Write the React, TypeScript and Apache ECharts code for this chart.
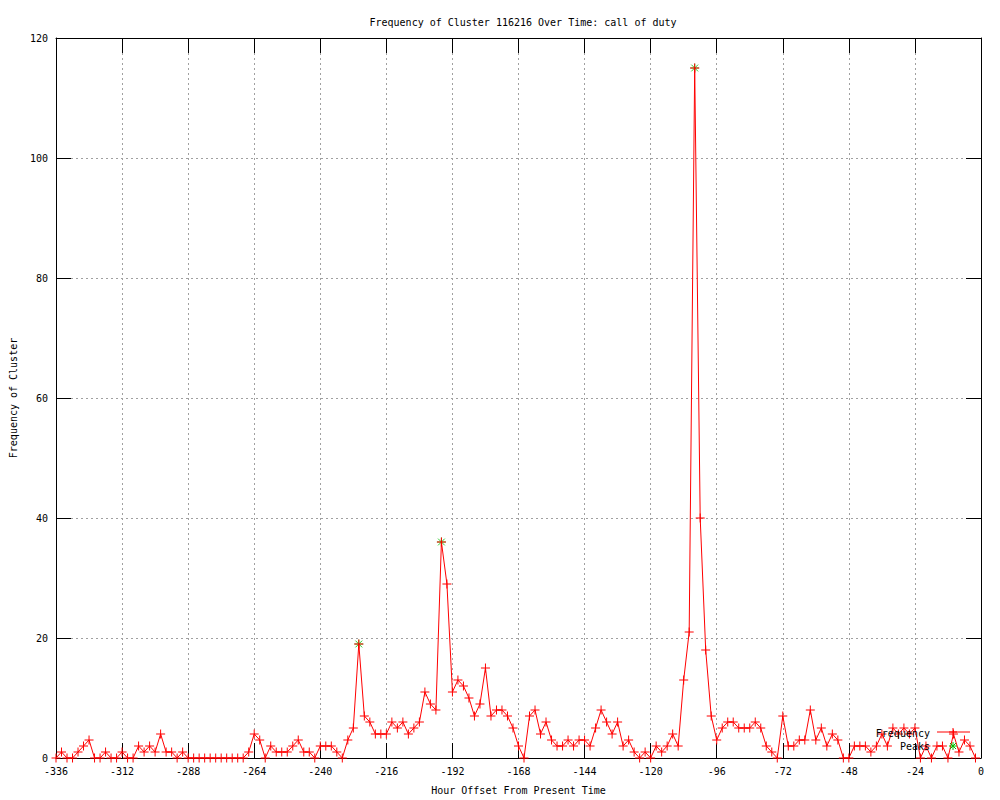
import React, { useEffect, useRef } from "react";
import * as echarts from "echarts";

const hours = [
  -336, -334, -332, -330, -328, -326, -324, -322, -320, -318, -316, -314, -312, -310, -308, -306,
  -304, -302, -300, -298, -296, -294, -292, -290, -288, -286, -284, -282, -280, -278, -276, -274,
  -272, -270, -268, -266, -264, -262, -260, -258, -256, -254, -252, -250, -248, -246, -244, -242,
  -240, -238, -236, -234, -232, -230, -228, -226, -224, -222, -220, -218, -216, -214, -212, -210,
  -208, -206, -204, -202, -200, -198, -196, -194, -192, -190, -188, -186, -184, -182, -180, -178,
  -176, -174, -172, -170, -168, -166, -164, -162, -160, -158, -156, -154, -152, -150, -148, -146,
  -144, -142, -140, -138, -136, -134, -132, -130, -128, -126, -124, -122, -120, -118, -116, -114,
  -112, -110, -108, -106, -104, -102, -100, -98, -96, -94, -92, -90, -88, -86, -84, -82,
  -80, -78, -76, -74, -72, -70, -68, -66, -64, -62, -60, -58, -56, -54, -52, -50,
  -48, -46, -44, -42, -40, -38, -36, -34, -32, -30, -28, -26, -24, -22, -20, -18,
  -16, -14, -12, -10, -8, -6, -4, -2,
];

const frequency = [
  0, 1, 0, 0, 1, 2, 3, 0, 0, 1, 0, 0, 1, 0, 0, 2,
  1, 2, 1, 4, 1, 1, 0, 1, 0, 0, 0, 0, 0, 0, 0, 0,
  0, 0, 0, 1, 4, 3, 0, 2, 1, 1, 1, 2, 3, 1, 1, 0,
  2, 2, 2, 1, 0, 3, 5, 19, 7, 6, 4, 4, 4, 6, 5, 6,
  4, 5, 6, 11, 9, 8, 36, 29, 11, 13, 12, 10, 7, 9, 15, 7,
  8, 8, 7, 5, 2, 0, 7, 8, 4, 6, 3, 2, 2, 3, 2, 3,
  3, 2, 5, 8, 6, 4, 6, 2, 3, 1, 0, 1, 0, 2, 1, 2,
  4, 2, 13, 21, 115, 40, 18, 7, 3, 5, 6, 6, 5, 5, 5, 6,
  5, 2, 1, 0, 7, 2, 2, 3, 3, 8, 3, 5, 2, 4, 3, 0,
  0, 2, 2, 2, 1, 2, 4, 2, 5, 4, 5, 4, 5, 0, 2, 0,
  2, 2, 0, 4, 1, 3, 2, 0,
];

const peakHours = [-226, -196, -104];
const peakValues = [19, 36, 115];

const titleText = "Frequency of Cluster 116216 Over Time: call of duty";
const xName = "Hour Offset From Present Time";
const yName = "Frequency of Cluster";
const legendNames = ["Frequency", "Peaks"];

const RED = "#ff0000";
const GREEN = "#00c000";
const FONT = "DejaVu Sans Mono";
const PLUS = "path://M-4,0L4,0M0,-4L0,4";
const STAR = "path://M-4,0L4,0M0,-4L0,4M-3,-3L3,3M-3,3L3,-3";

let registered = false;
function registerShapes() {
  if (registered) return;
  registered = true;
  echarts.graphic.registerShape(
    "plusMark",
    echarts.graphic.extendPath("M-4,0L4,0M0,-4L0,4", {})
  );
  echarts.graphic.registerShape(
    "starMark",
    echarts.graphic.extendPath("M-4,0L4,0M0,-4L0,4M-3,-3L3,3M-3,3L3,-3", {})
  );
}

export default function App() {
  const ref = useRef<HTMLDivElement>(null);
  useEffect(() => {
    if (!ref.current) return;
    registerShapes();
    const chart = echarts.init(ref.current, undefined, { renderer: "svg" });
    const freqData = hours.map((h, i) => [h, frequency[i]]);
    const peakData = peakHours.map((h, i) => [h, peakValues[i]]);
    const axisLine = { show: true, onZero: false, lineStyle: { color: "#000", width: 1 } };
    const tick = { show: true, inside: true, length: 15, lineStyle: { color: "#000" } };
    const grid = { show: true, lineStyle: { color: "#a0a0a0", type: [2, 3], width: 1 } };
    const labelStyle = { color: "#000", fontFamily: FONT, fontSize: 10 };
    chart.setOption({
      animation: false,
      backgroundColor: "#fff",
      title: {
        text: titleText,
        left: 518,
        top: 12,
        textAlign: "center",
        textStyle: { color: "#000", fontFamily: FONT, fontSize: 10, fontWeight: "normal" },
      },
      grid: { left: 56, right: 19, top: 38, bottom: 40, containLabel: false },
      xAxis: [
        {
          type: "value",
          min: -336,
          max: 0,
          interval: 24,
          position: "bottom",
          name: xName,
          nameLocation: "middle",
          nameGap: 27,
          nameTextStyle: labelStyle,
          axisLine,
          axisTick: tick,
          axisLabel: { ...labelStyle, margin: 8 },
          splitLine: grid,
        },
        {
          type: "value",
          min: -336,
          max: 0,
          interval: 24,
          position: "top",
          axisLine,
          axisTick: tick,
          axisLabel: { show: false },
          splitLine: { show: false },
        },
      ],
      yAxis: [
        {
          type: "value",
          min: 0,
          max: 120,
          interval: 20,
          position: "left",
          name: yName,
          nameLocation: "middle",
          nameGap: 38,
          nameTextStyle: labelStyle,
          axisLine,
          axisTick: tick,
          axisLabel: { ...labelStyle, margin: 8 },
          splitLine: grid,
        },
        {
          type: "value",
          min: 0,
          max: 120,
          interval: 20,
          position: "right",
          axisLine,
          axisTick: tick,
          axisLabel: { show: false },
          splitLine: { show: false },
        },
      ],
      series: [
        {
          name: legendNames[1],
          type: "scatter",
          data: peakData,
          symbol: STAR,
          symbolSize: 9,
          z: 2,
          itemStyle: { color: GREEN, borderColor: GREEN, borderWidth: 1 },
        },
        {
          name: legendNames[0],
          type: "line",
          data: freqData,
          symbol: PLUS,
          symbolSize: 9,
          showAllSymbol: true,
          z: 3,
          lineStyle: { color: RED, width: 1 },
          itemStyle: { color: RED, borderColor: RED, borderWidth: 1 },
        },
      ],
      graphic: [
        {
          type: "text",
          x: 930,
          y: 733,
          z: 10,
          style: {
            text: legendNames[0],
            fill: "#000",
            font: `10px ${FONT}`,
            textAlign: "right",
            textVerticalAlign: "middle",
          },
        },
        {
          type: "line",
          z: 10,
          shape: { x1: 937, y1: 732, x2: 970, y2: 732 },
          style: { stroke: RED, lineWidth: 1 },
        },
        {
          type: "plusMark",
          x: 953,
          y: 732,
          z: 10,
          style: { stroke: RED, fill: "none", lineWidth: 1 },
        },
        {
          type: "text",
          x: 930,
          y: 746,
          z: 10,
          style: {
            text: legendNames[1],
            fill: "#000",
            font: `10px ${FONT}`,
            textAlign: "right",
            textVerticalAlign: "middle",
          },
        },
        {
          type: "starMark",
          x: 953,
          y: 746,
          z: 10,
          style: { stroke: GREEN, fill: "none", lineWidth: 1 },
        },
      ],
    });
    return () => chart.dispose();
  }, []);
  return (
    <div
      ref={ref}
      style={{ position: "absolute", left: 0, top: 0, width: 1000, height: 800 }}
    />
  );
}
